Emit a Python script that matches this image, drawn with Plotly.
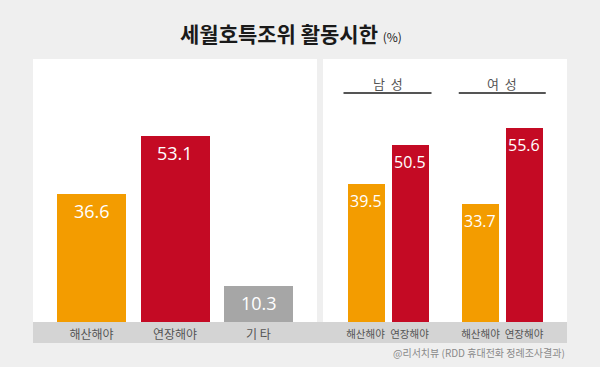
import plotly.graph_objects as go

W, H = 600, 367

# ---- data ----
total_categories = ["해산해야", "연장해야", "기 타"]
total_values = [36.6, 53.1, 10.3]
gender_categories = ["해산해야", "연장해야"]
male_values = [39.5, 50.5]
female_values = [33.7, 55.6]
group_labels = ["남  성", "여  성"]

title_text = "세월호특조위 활동시한"
source_text = "@리서치뷰 (RDD 휴대전화 정례조사결과)"

ORANGE = "#F39C00"
RED = "#C40A24"
GRAY = "#A6A6A6"
BG = "#EFEFEF"
BAND = "#D4D4D4"

KR = "Noto Sans CJK KR"
NUM = "Open Sans"


def px(x):
    return x / W


def py(y):
    return 1 - y / H


bottom_y, top_y = 322, 59
scale = 3.497
ymax = (bottom_y - top_y) / scale

fig = go.Figure()

fig.add_trace(go.Bar(
    x=total_categories, y=total_values,
    marker=dict(color=[ORANGE, RED, GRAY], line=dict(width=0)),
    width=69 / 83.5, xaxis="x", yaxis="y", showlegend=False,
))
fig.add_trace(go.Bar(
    x=gender_categories, y=male_values,
    marker=dict(color=[ORANGE, RED], line=dict(width=0)),
    width=37 / 44, xaxis="x2", yaxis="y2", showlegend=False,
))
fig.add_trace(go.Bar(
    x=gender_categories, y=female_values,
    marker=dict(color=[ORANGE, RED], line=dict(width=0)),
    width=37 / 43.5, xaxis="x3", yaxis="y3", showlegend=False,
))

annotations = []
for xa, ya, cats, vals, fs in [("x", "y", total_categories, total_values, 18),
                               ("x2", "y2", gender_categories, male_values, 16),
                               ("x3", "y3", gender_categories, female_values, 16)]:
    for c, v in zip(cats, vals):
        annotations.append(dict(
            x=c, y=v, xref=xa, yref=ya, text=f"{v:.1f}", showarrow=False,
            yshift=-17, font=dict(family=NUM, size=fs, color="white"),
        ))

unit_l = 83.5
x_range_l = [-(91.5 - 33) / unit_l, 2 + (317 - 258.5) / unit_l]

ydom = [py(bottom_y), py(top_y)]


def xaxis_common(size):
    return dict(type="category", showgrid=False, zeroline=False, showline=False,
                ticks="", tickangle=0, fixedrange=True, ticklabelstandoff=4,
                tickfont=dict(family=KR, size=size, color="#555555"))


yaxis_common = dict(range=[0, ymax], showgrid=False, zeroline=False, showline=False,
                    showticklabels=False, ticks="", domain=ydom, fixedrange=True)

layout = dict(
    width=W, height=H,
    margin=dict(l=0, r=0, t=0, b=0),
    paper_bgcolor=BG, plot_bgcolor="rgba(0,0,0,0)",
    bargap=0,
    xaxis=dict(domain=[px(33), px(317)], range=x_range_l, anchor="y", **xaxis_common(12)),
    yaxis=dict(anchor="x", **yaxis_common),
    xaxis2=dict(domain=[px(343.5), px(431.5)], range=[-0.5, 1.5], anchor="y2", **xaxis_common(10.5)),
    yaxis2=dict(anchor="x2", **yaxis_common),
    xaxis3=dict(domain=[px(458.75), px(545.75)], range=[-0.5, 1.5], anchor="y3", **xaxis_common(10.5)),
    yaxis3=dict(anchor="x3", **yaxis_common),
)

shapes = [
    dict(type="rect", xref="paper", yref="paper", x0=px(33), x1=px(317), y0=py(322), y1=py(59),
         fillcolor="white", line=dict(width=0), layer="below"),
    dict(type="rect", xref="paper", yref="paper", x0=px(323), x1=px(567), y0=py(322), y1=py(59),
         fillcolor="white", line=dict(width=0), layer="below"),
    dict(type="rect", xref="paper", yref="paper", x0=px(33), x1=px(567), y0=py(343), y1=py(322),
         fillcolor=BAND, line=dict(width=0), layer="below"),
]
for xa in ["x2", "x3"]:
    shapes.append(dict(type="line", xref=f"{xa} domain", yref="paper", x0=0, x1=1,
                       y0=py(93), y1=py(93), line=dict(color="#555555", width=2)))

for xa, lab in zip(["x2", "x3"], group_labels):
    annotations.append(dict(x=0.5, xref=f"{xa} domain", y=py(83), yref="paper", text=lab,
                            showarrow=False, font=dict(family=KR, size=13, color="#555555"),
                            yanchor="middle"))

annotations.append(dict(
    x=px(291), y=py(33), xref="paper", yref="paper", showarrow=False, yanchor="middle",
    text=f"<b>{title_text}</b> <span style='font-size:12px'>(%)</span>",
    font=dict(family=KR, size=21, color="#1a1a1a"),
))
annotations.append(dict(
    x=px(567), y=py(352), xref="paper", yref="paper", showarrow=False,
    xanchor="right", yanchor="middle", text=source_text,
    font=dict(family=KR, size=10, color="#8a8a8a"),
))

layout["shapes"] = shapes
layout["annotations"] = annotations
fig.update_layout(**layout)

fig.write_html("out.html", config={"displayModeBar": False},
               post_script="document.body.style.margin='0';")
